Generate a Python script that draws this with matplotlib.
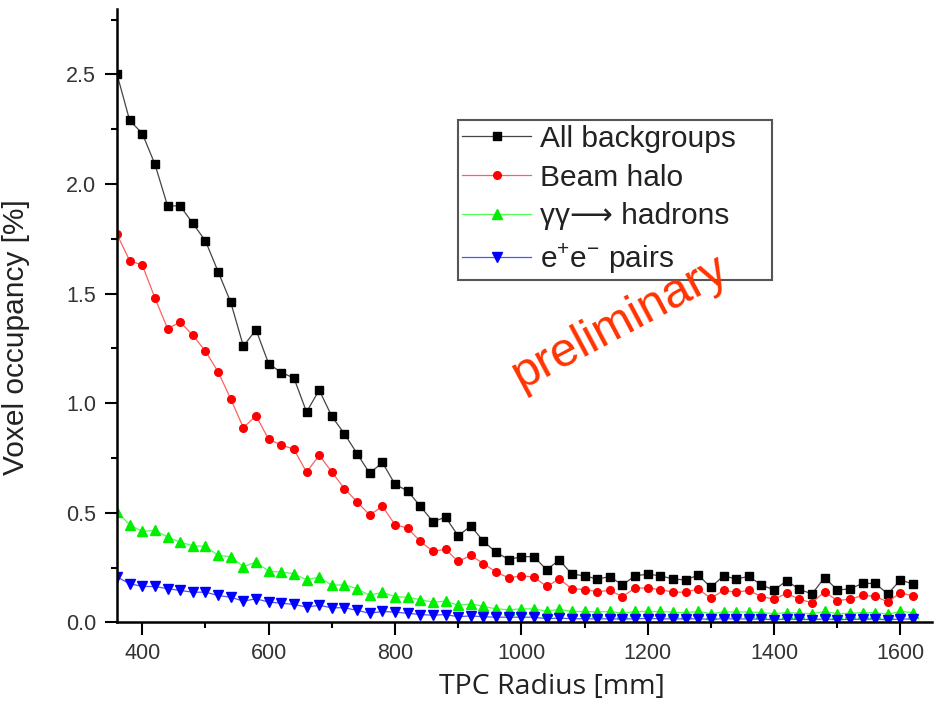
import matplotlib
matplotlib.use("Agg")
import matplotlib.pyplot as plt
from matplotlib.ticker import MultipleLocator

# TPC radius grid [mm]
radius = [360, 380, 400, 420, 440, 460, 480, 500, 520, 540, 560, 580, 600, 620, 640, 660,
          680, 700, 720, 740, 760, 780, 800, 820, 840, 860, 880, 900, 920, 940, 960, 980,
          1000, 1020, 1040, 1060, 1080, 1100, 1120, 1140, 1160, 1180, 1200, 1220, 1240, 1260, 1280, 1300,
          1320, 1340, 1360, 1380, 1400, 1420, 1440, 1460, 1480, 1500, 1520, 1540, 1560, 1580, 1600, 1620]

# voxel occupancy [%]
all_bkg = [2.50, 2.29, 2.23, 2.09, 1.90, 1.90, 1.82, 1.74, 1.60, 1.46, 1.26, 1.335, 1.18, 1.14, 1.115, 0.96,
           1.06, 0.94, 0.86, 0.77, 0.68, 0.73, 0.63, 0.60, 0.53, 0.46, 0.48, 0.395, 0.44, 0.37, 0.32, 0.287,
           0.30, 0.30, 0.24, 0.285, 0.22, 0.213, 0.198, 0.209, 0.171, 0.213, 0.22, 0.213, 0.198, 0.194, 0.216, 0.16,
           0.213, 0.198, 0.21, 0.171, 0.148, 0.19, 0.151, 0.13, 0.205, 0.148, 0.153, 0.178, 0.178, 0.13, 0.194, 0.175]

beam_halo = [1.77, 1.65, 1.63, 1.48, 1.34, 1.37, 1.31, 1.237, 1.143, 1.019, 0.888, 0.943, 0.835, 0.81, 0.79, 0.685,
             0.763, 0.686, 0.61, 0.55, 0.49, 0.53, 0.446, 0.43, 0.37, 0.324, 0.334, 0.278, 0.306, 0.268, 0.23, 0.203,
             0.213, 0.207, 0.164, 0.198, 0.154, 0.15, 0.14, 0.146, 0.118, 0.157, 0.157, 0.15, 0.138, 0.138, 0.153, 0.11,
             0.146, 0.138, 0.146, 0.118, 0.106, 0.133, 0.106, 0.09, 0.14, 0.10, 0.106, 0.123, 0.12, 0.093, 0.136, 0.12]

gg_hadrons = [0.506, 0.445, 0.415, 0.42, 0.39, 0.366, 0.35, 0.347, 0.306, 0.30, 0.255, 0.275, 0.234, 0.23, 0.222, 0.195,
              0.207, 0.169, 0.172, 0.154, 0.123, 0.138, 0.118, 0.115, 0.104, 0.093, 0.097, 0.078, 0.085, 0.073, 0.062, 0.058,
              0.062, 0.062, 0.052, 0.06, 0.05, 0.05, 0.048, 0.05, 0.042, 0.05, 0.05, 0.05, 0.047, 0.045, 0.05, 0.04,
              0.048, 0.048, 0.048, 0.045, 0.04, 0.045, 0.042, 0.04, 0.05, 0.04, 0.042, 0.045, 0.045, 0.038, 0.05, 0.045]

ee_pairs = [0.207, 0.177, 0.164, 0.164, 0.154, 0.146, 0.138, 0.138, 0.123, 0.115, 0.097, 0.108, 0.093, 0.088, 0.082, 0.07,
            0.078, 0.067, 0.067, 0.055, 0.042, 0.05, 0.047, 0.042, 0.036, 0.033, 0.036, 0.026, 0.03, 0.026, 0.024, 0.024,
            0.024, 0.024, 0.017, 0.02, 0.017, 0.017, 0.016, 0.017, 0.015, 0.017, 0.018, 0.017, 0.016, 0.016, 0.017, 0.014,
            0.017, 0.016, 0.016, 0.015, 0.013, 0.015, 0.014, 0.013, 0.016, 0.013, 0.014, 0.015, 0.015, 0.012, 0.016, 0.015]

labels = ["All backgroups", "Beam halo", "\u03b3\u03b3\u27f6 hadrons", "e$^{+}$e$^{-}$ pairs"]

plt.rcParams["font.family"] = ["Liberation Sans", "DejaVu Sans"]
plt.rcParams["mathtext.fontset"] = "custom"
plt.rcParams["mathtext.rm"] = "Liberation Sans"

fig = plt.figure(figsize=(9.4, 7.13), dpi=100)
ax = fig.add_axes([0.1245, 0.127, 0.867, 0.861])

ax.plot(radius, all_bkg, color="#444444", lw=0.9, marker="s", ms=5.5, mfc="black", mec="black", label=labels[0])
ax.plot(radius, beam_halo, color="#ff6060", lw=0.9, marker="o", ms=5.5, mfc="red", mec="red", label=labels[1])
ax.plot(radius, gg_hadrons, color="#50ff50", lw=0.9, marker="^", ms=7, mfc="#00ee00", mec="#00ee00", label=labels[2])
ax.plot(radius, ee_pairs, color="#5050ff", lw=0.9, marker="v", ms=7, mfc="blue", mec="blue", label=labels[3])

ax.set_xlim(360, 1650)
ax.set_ylim(0, 2.8)
ax.xaxis.set_major_locator(MultipleLocator(200))
ax.xaxis.set_minor_locator(MultipleLocator(100))
ax.yaxis.set_major_locator(MultipleLocator(0.5))
ax.yaxis.set_minor_locator(MultipleLocator(0.25))
ax.yaxis.set_major_formatter(plt.FormatStrFormatter("%.1f"))

for side in ["top", "right"]:
    ax.spines[side].set_visible(False)
for side in ["left", "bottom"]:
    ax.spines[side].set_linewidth(1.8)

ax.tick_params(which="major", direction="out", length=9, width=1.5, labelsize=15.5, labelcolor="#333333", pad=6)
ax.tick_params(which="minor", direction="out", length=4, width=1.5)

ax.set_xlabel("TPC Radius [mm]", fontsize=20.5, family=["Open Sans", "DejaVu Sans"], color="#222222")
ax.xaxis.set_label_coords(0.533, -0.083)
ax.set_ylabel("Voxel occupancy [%]", fontsize=21.5, color="#222222")
ax.yaxis.set_label_coords(-0.107, 0.465)

# legend box stretched to the width it has in the original figure
leg = ax.legend(loc="upper left", bbox_to_anchor=(0.418, 0.568, 0.386, 0.25), mode="expand",
                borderaxespad=0, fontsize=21.5, handlelength=2.3, handletextpad=0.3, labelspacing=0.36,
                fancybox=False, framealpha=1, edgecolor="#555555", borderpad=0.15)
leg.get_frame().set_linewidth(1.5)
for t in leg.get_texts():
    t.set_color("#222222")

ax.text(1156, 1.37, "preliminary", fontsize=35, color="#ff3300", rotation=28,
        ha="center", va="center", zorder=10)

fig.savefig("out.png", dpi=100)
